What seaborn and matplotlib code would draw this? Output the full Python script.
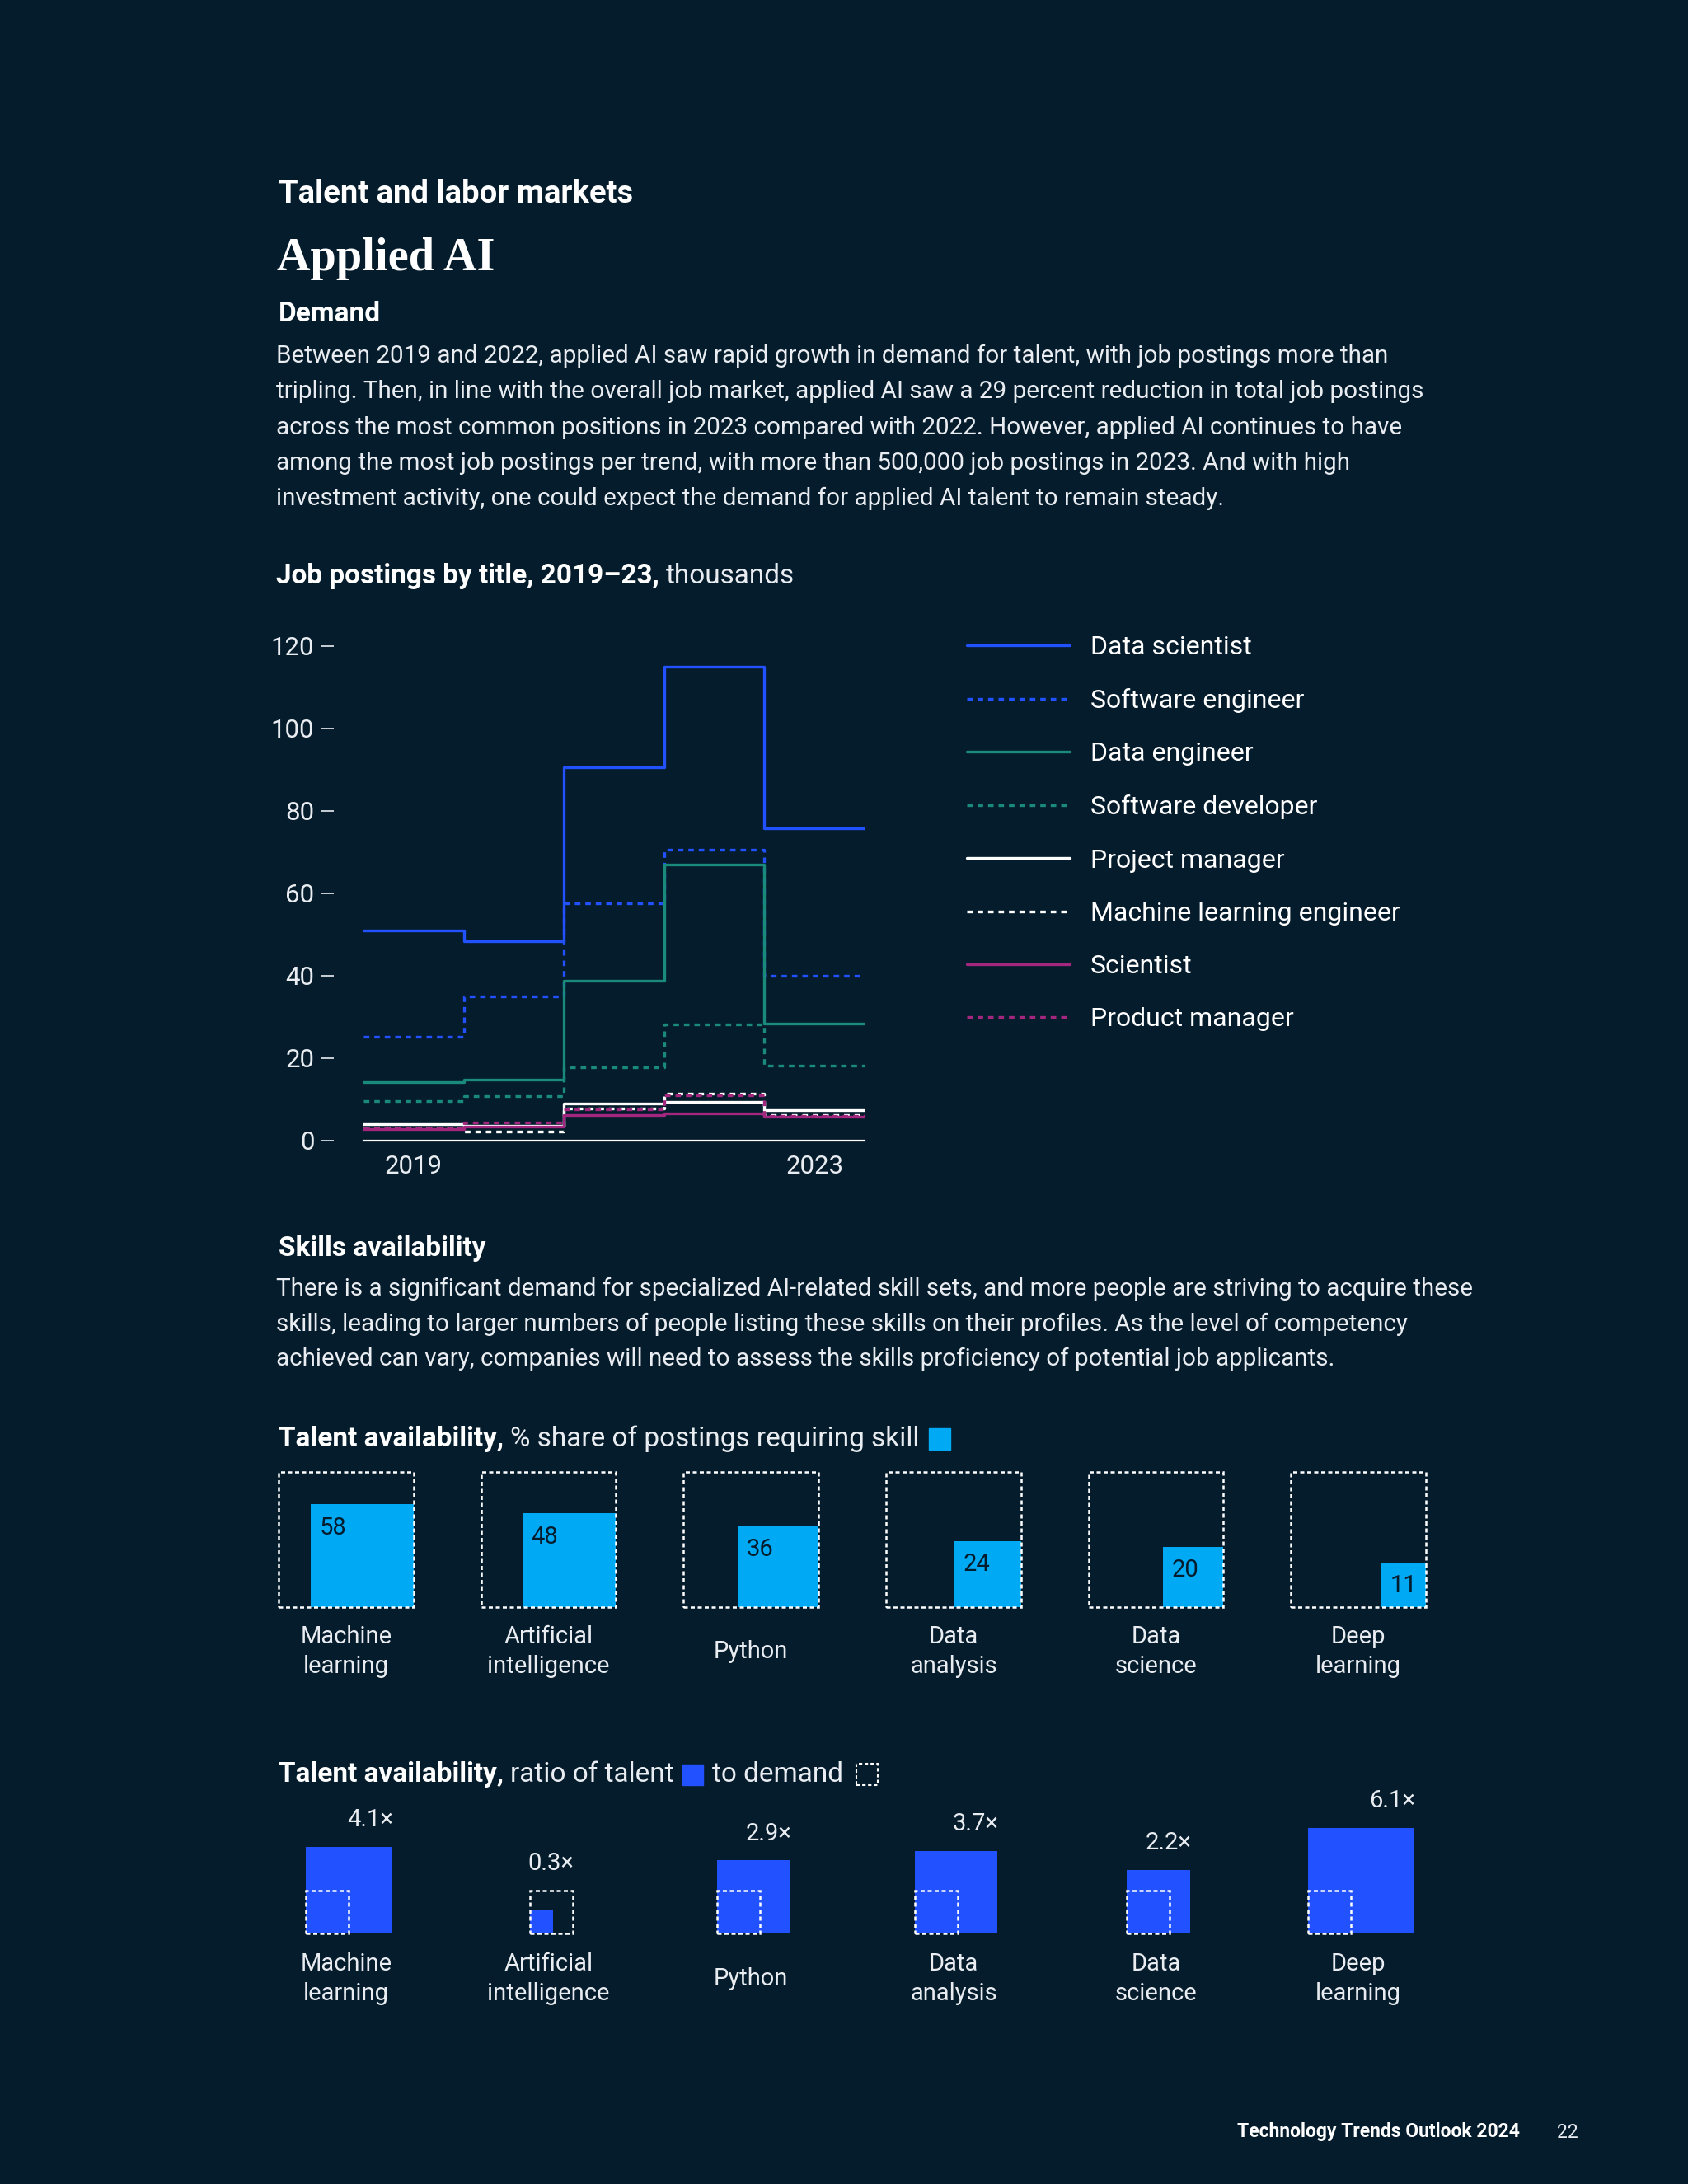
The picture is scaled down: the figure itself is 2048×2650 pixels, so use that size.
import numpy as np
import pandas as pd
import matplotlib.pyplot as plt
import seaborn as sns
from matplotlib.patches import Rectangle

# --- data ------------------------------------------------------------------
years = [2019, 2020, 2021, 2022, 2023]
titles = ["Data scientist", "Software engineer", "Data engineer", "Software developer",
          "Project manager", "Machine learning engineer", "Scientist", "Product manager"]
data_scientist = [51.0, 48.4, 90.6, 115.0, 75.7]
software_engineer = [25.1, 34.9, 57.6, 70.5, 39.9]
data_engineer = [14.1, 14.8, 38.7, 67.0, 28.3]
software_developer = [9.5, 10.8, 17.7, 28.2, 18.2]
project_manager = [3.9, 3.6, 8.9, 9.4, 7.3]
ml_engineer = [3.0, 2.1, 7.8, 11.3, 6.2]
scientist = [2.8, 3.4, 6.1, 6.6, 5.7]
product_manager = [3.0, 4.3, 7.6, 11.0, 5.9]
series = [data_scientist, software_engineer, data_engineer, software_developer,
          project_manager, ml_engineer, scientist, product_manager]

skills = ["Machine\nlearning", "Artificial\nintelligence", "Python",
          "Data\nanalysis", "Data\nscience", "Deep\nlearning"]
share_pct = [58, 48, 36, 24, 20, 11]
talent_ratio = [4.1, 0.3, 2.9, 3.7, 2.2, 6.1]

# --- colours ----------------------------------------------------------------
BG = "#051C2C"
BLUE = "#2251FF"
TEAL = "#1A8A7A"
PURPLE = "#A3267F"
CYAN = "#00A9F4"
WHITE = "#FFFFFF"
TXT = "#E9EDF1"

line_colors = [BLUE, BLUE, TEAL, TEAL, WHITE, WHITE, PURPLE, PURPLE]
line_dashes = ["", (2, 1.8), "", (2, 1.8), "", (2, 1.8), "", (2, 1.8)]

sns.set_theme(style="dark", rc={"axes.facecolor": BG, "figure.facecolor": BG,
                                "savefig.facecolor": BG, "text.color": TXT,
                                "xtick.color": TXT, "ytick.color": TXT})
plt.rcParams["font.family"] = ["Roboto", "DejaVu Sans"]

W, H = 2048, 2650
fig = plt.figure(figsize=(W / 100, H / 100), dpi=100)
renderer = fig.canvas.get_renderer()


def fx(x):
    return x / W


def fy(y):
    return 1 - y / H


def put(x, y, s, size, weight="normal", color=TXT, **kw):
    return fig.text(fx(x), fy(y), s, fontsize=size, fontweight=weight, color=color,
                    va="center", **kw)


def put_runs(x, y, runs, gap=8):
    for s, size, weight in runs:
        t = put(x, y, s, size, weight, color=WHITE if weight == "bold" else TXT)
        x = t.get_window_extent(renderer).x1 + gap
    return x


# --- header text --------------------------------------------------------------
put(338, 235, "Talent and labor markets", 27.5, "bold", WHITE)
fig.text(fx(336), fy(314), "Applied AI", fontsize=40.5, fontweight="bold", color=WHITE,
         va="center", family=["Liberation Serif", "DejaVu Serif"])
put(338, 381, "Demand", 24, "bold", WHITE)

para1 = ["Between 2019 and 2022, applied AI saw rapid growth in demand for talent, with job postings more than",
         "tripling. Then, in line with the overall job market, applied AI saw a 29 percent reduction in total job postings",
         "across the most common positions in 2023 compared with 2022. However, applied AI continues to have",
         "among the most job postings per trend, with more than 500,000 job postings in 2023. And with high",
         "investment activity, one could expect the demand for applied AI talent to remain steady."]
for k, line in enumerate(para1):
    put(335, 432 + k * 43.3, line, 21.3)

put_runs(335, 699, [("Job postings by title, 2019\u201323,", 24, "bold"), ("thousands", 24, "normal")])

# --- job postings step chart ------------------------------------------------
rows = []
for t, vals in zip(titles, series):
    xs = [y - 0.5 for y in years] + [years[-1] + 0.5]
    vs = list(vals) + [vals[-1]]
    for xv, vv in zip(xs, vs):
        rows.append((xv, vv, t))
df = pd.DataFrame(rows, columns=["year", "postings", "title"])

ax = fig.add_axes([fx(441), fy(1384), (1049 - 441) / W, 600 / H])
sns.lineplot(data=df, x="year", y="postings", hue="title", style="title",
             hue_order=titles, style_order=titles,
             palette=dict(zip(titles, line_colors)), dashes=dict(zip(titles, line_dashes)),
             drawstyle="steps-post", linewidth=2.4, estimator=None, ax=ax)
handles, labels = ax.get_legend_handles_labels()
ax.get_legend().remove()

ax.set_xlim(2018.5, 2023.5)
ax.set_ylim(0, 120)
ax.set_xticks([2019, 2023])
ax.set_yticks(range(0, 121, 20))
ax.set_xlabel("")
ax.set_ylabel("")
for side in ["top", "right"]:
    ax.spines[side].set_visible(False)
ax.spines["left"].set_position(("outward", 26))
ax.spines["left"].set_visible(False)
ax.spines["bottom"].set_color(WHITE)
ax.spines["bottom"].set_linewidth(1.6)
ax.tick_params(axis="y", length=11, width=1.2, color=TXT, pad=6, labelsize=22.5, left=True)
ax.tick_params(axis="x", length=0, pad=12, labelsize=22.5)
ax.grid(False)

leg = fig.legend(handles, labels, loc="upper left", bbox_to_anchor=(fx(1173), fy(771)),
                 frameon=False, fontsize=23, handlelength=3.9, handletextpad=0.8,
                 labelspacing=1.1, borderpad=0, borderaxespad=0, labelcolor=WHITE)
for ln in leg.get_lines():
    ln.set_linewidth(2.4)

# --- skills section -------------------------------------------------------------
put(338, 1515, "Skills availability", 24, "bold", WHITE)
para2 = ["There is a significant demand for specialized AI-related skill sets, and more people are striving to acquire these",
         "skills, leading to larger numbers of people listing these skills on their profiles. As the level of competency",
         "achieved can vary, companies will need to assess the skills proficiency of potential job applicants."]
for k, line in enumerate(para2):
    put(335, 1564 + k * 42.5, line, 21.3)

dash_box = (0, (2, 1.4))

xe = put_runs(338, 1746, [("Talent availability,", 24, "bold"), ("% share of postings requiring skill", 24, "normal")])
fig.add_artist(Rectangle((fx(xe + 4), fy(1759)), 26 / W, 26 / H, color=CYAN,
                         transform=fig.transFigure))

step = 1.5
ax2 = fig.add_axes([fx(338), fy(1950), 1392 / W, 164 / H])
ax2.set_xlim(0, 8.5)
ax2.set_ylim(0, 1)
ax2.axis("off")
for i, (lab, v) in enumerate(zip(skills, share_pct)):
    x0 = i * step
    s = np.sqrt(v / 100)
    ax2.add_patch(Rectangle((x0 + 1 - s, 0), s, s, color=CYAN, lw=0, zorder=1))
    ax2.add_patch(Rectangle((x0, 0), 1, 1, fill=False, ec=WHITE, lw=1.8, ls=dash_box,
                            clip_on=False, zorder=2))
    ax2.text(x0 + 1 - s + 0.065, s - 0.09, str(v), color=BG, fontsize=21,
             ha="left", va="top", zorder=3)
    ax2.text(x0 + 0.5, -0.33, lab, color=TXT, fontsize=21, ha="center", va="center",
             linespacing=1.38)

xe = put_runs(338, 2153, [("Talent availability,", 24, "bold"), ("ratio of talent", 24, "normal")])
fig.add_artist(Rectangle((fx(xe + 2), fy(2166)), 25 / W, 25 / H, color=BLUE,
                         transform=fig.transFigure))
xe = put_runs(xe + 38, 2153, [("to demand", 24, "normal")])
fig.add_artist(Rectangle((fx(xe + 8), fy(2166)), 26 / W, 26 / H, fill=False, ec=WHITE,
                         lw=1.5, ls=dash_box, transform=fig.transFigure))

d = 0.317
ax3 = fig.add_axes([fx(338), fy(2346), 1392 / W, 164 / H])
ax3.set_xlim(0, 8.5)
ax3.set_ylim(0, 1)
ax3.axis("off")
for i, (lab, r) in enumerate(zip(skills, talent_ratio)):
    c = i * step + 0.5
    b = d * np.sqrt(r)
    w = max(b, d)
    left = c - w / 2 + 0.02
    ax3.add_patch(Rectangle((left, 0), b, b, color=BLUE, lw=0, zorder=1))
    ax3.add_patch(Rectangle((left, 0), d, d, fill=False, ec=WHITE, lw=1.8, ls=dash_box,
                            clip_on=False, zorder=2))
    ax3.text(left + w - 0.16, w + 0.2, f"{r}\u00d7", color=TXT, fontsize=21,
             ha="center", va="center")
    ax3.text(c, -0.336, lab, color=TXT, fontsize=21, ha="center", va="center",
             linespacing=1.38)

# --- footer -----------------------------------------------------------------
put(1844, 2587, "Technology Trends Outlook 2024", 16.5, "bold", WHITE, ha="right")
put(1889, 2587, "22", 16.5, "normal", TXT, ha="left")

fig.savefig("out.png", dpi=100)
